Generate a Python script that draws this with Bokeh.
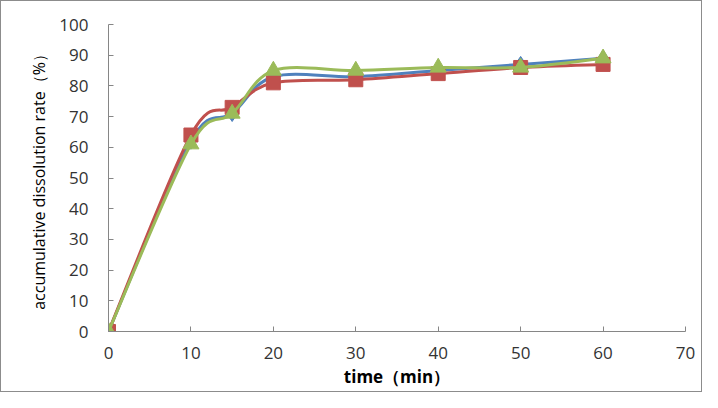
from bokeh.plotting import figure
from bokeh.models import Range1d, FixedTicker, ColumnDataSource
from bokeh.embed import file_html
from bokeh.resources import INLINE

time_min = [0, 10, 15, 20, 30, 40, 50, 60]
series_blue = [0, 62, 71, 83, 83, 85, 87, 89]
series_red = [0, 64, 73, 81, 82, 84, 86, 87]
series_green = [0, 61, 71, 85, 85, 86, 86, 89]
x_ticks = [0, 10, 20, 30, 40, 50, 60, 70]
y_ticks = [0, 10, 20, 30, 40, 50, 60, 70, 80, 90, 100]

BLUE = "#4F81BD"
RED = "#C0504D"
GREEN = "#9BBB59"
FONT = "Open Sans"


def smooth_segments(xs, ys):
    """Bezier control points (Excel-style smoothed line) from the data points."""
    n = len(xs)
    d = dict(x0=[], y0=[], x1=[], y1=[], cx0=[], cy0=[], cx1=[], cy1=[])
    for i in range(n - 1):
        p0 = (xs[i - 1], ys[i - 1]) if i > 0 else (xs[i], ys[i])
        p1 = (xs[i], ys[i])
        p2 = (xs[i + 1], ys[i + 1])
        p3 = (xs[i + 2], ys[i + 2]) if i + 2 < n else p2
        d["x0"].append(p1[0]); d["y0"].append(p1[1])
        d["x1"].append(p2[0]); d["y1"].append(p2[1])
        d["cx0"].append(p1[0] + (p2[0] - p0[0]) / 6.0)
        d["cy0"].append(p1[1] + (p2[1] - p0[1]) / 6.0)
        d["cx1"].append(p2[0] - (p3[0] - p1[0]) / 6.0)
        d["cy1"].append(p2[1] - (p3[1] - p1[1]) / 6.0)
    return ColumnDataSource(d)


p = figure(width=702, height=392, output_backend="svg", toolbar_location=None,
           x_range=Range1d(0, 70), y_range=Range1d(0, 100),
           min_border_left=107, min_border_right=18, min_border_top=23, min_border_bottom=62)
p.styles = {"border": "1px solid #8c8c8c", "box-sizing": "border-box"}
p.outline_line_color = None
p.xgrid.visible = False
p.ygrid.visible = False

for ax, ticks in ((p.xaxis, x_ticks), (p.yaxis, y_ticks)):
    ax.ticker = FixedTicker(ticks=ticks)
    ax.axis_line_color = "#868686"
    ax.major_tick_line_color = "#868686"
    ax.major_tick_in = 5
    ax.major_tick_out = 0
    ax.minor_tick_line_color = None
    ax.major_label_text_font = FONT
    ax.major_label_text_font_size = "17px"
    ax.major_label_text_color = "#333333"
    ax.axis_label_text_font = FONT
    ax.axis_label_text_color = "#000000"

p.xaxis.axis_label = "time（min）"
p.xaxis.axis_label_text_font_style = "bold"
p.xaxis.axis_label_text_font_size = "17px"
p.xaxis.major_label_standoff = 15
p.xaxis.axis_label_standoff = 3
p.yaxis.axis_label = "accumulative dissolution rate（%）"
p.yaxis.axis_label_text_font_style = "normal"
p.yaxis.axis_label_text_font_size = "16px"
p.yaxis.major_label_standoff = 20
p.yaxis.axis_label_standoff = 6

for ys, color in ((series_blue, BLUE), (series_red, RED), (series_green, GREEN)):
    p.bezier(x0="x0", y0="y0", x1="x1", y1="y1", cx0="cx0", cy0="cy0", cx1="cx1", cy1="cy1",
             source=smooth_segments(time_min, ys), line_color=color, line_width=3)
    if color == BLUE:
        p.scatter(time_min, ys, marker="diamond", size=16, fill_color=BLUE, line_color=BLUE)
    elif color == RED:
        p.scatter(time_min, ys, marker="square", size=14, fill_color=RED, line_color=RED)
    else:
        p.scatter(time_min, ys, marker="triangle", size=16, fill_color=GREEN, line_color=GREEN)

open("out.html", "w").write(file_html(p, INLINE))
